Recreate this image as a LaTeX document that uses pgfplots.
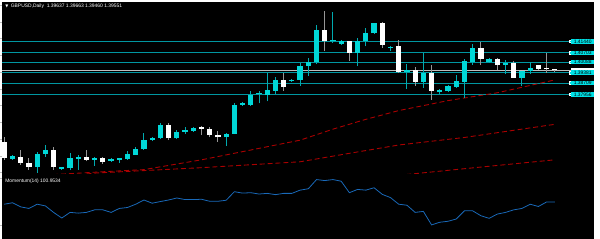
\documentclass[border=0pt]{standalone}
\usepackage{fontspec}
\setmainfont{Liberation Sans}
\newfontfamily\dejavu{DejaVu Sans}
\usepackage{pgfplots}
\usepackage{pgfplotstable}
\pgfplotsset{compat=1.18}
\definecolor{bull}{RGB}{0,215,215}
\definecolor{bullwick}{RGB}{0,170,175}
\definecolor{bear}{RGB}{255,255,255}
\definecolor{bearwick}{RGB}{150,150,150}
\definecolor{hline}{RGB}{0,150,160}
\definecolor{lab}{RGB}{0,225,230}
\definecolor{ma}{RGB}{170,0,0}
\definecolor{gridc}{RGB}{120,120,120}
\definecolor{mom}{RGB}{25,105,185}
\definecolor{axc}{RGB}{190,190,190}

\pgfplotstableread{
k o h l c
0 1.3481 1.3514 1.3362 1.3373
1 1.3368 1.3392 1.3362 1.3388
2 1.3383 1.3427 1.3329 1.3344
3 1.3340 1.3375 1.3297 1.3314
4 1.3314 1.3416 1.3277 1.3401
5 1.3401 1.3460 1.3383 1.3427
6 1.3427 1.3447 1.3297 1.3314
7 1.3301 1.3314 1.3297 1.3312
8 1.3308 1.3408 1.3297 1.3373
9 1.3370 1.3395 1.3297 1.3381
10 1.3381 1.3427 1.3351 1.3364
11 1.3362 1.3381 1.3323 1.3377
12 1.3373 1.3383 1.3336 1.3349
13 1.3355 1.3375 1.3349 1.3370
14 1.3362 1.3377 1.3342 1.3373
15 1.3366 1.3423 1.3362 1.3399
16 1.3397 1.3447 1.3395 1.3436
17 1.3432 1.3540 1.3427 1.3493
18 1.3493 1.3512 1.3486 1.3506
19 1.3504 1.3605 1.3499 1.3590
20 1.3590 1.3605 1.3493 1.3504
21 1.3504 1.3558 1.3499 1.3547
22 1.3547 1.3579 1.3532 1.3562
23 1.3553 1.3579 1.3547 1.3573
24 1.3575 1.3588 1.3525 1.3569
25 1.3564 1.3579 1.3510 1.3525
26 1.3525 1.3553 1.3482 1.3510
27 1.3510 1.3540 1.3453 1.3536
28 1.3536 1.3736 1.3532 1.3728
29 1.3728 1.3747 1.3721 1.3736
30 1.3728 1.3819 1.3721 1.3791
31 1.3795 1.3819 1.3736 1.3801
32 1.3791 1.3938 1.3749 1.3823
33 1.3819 1.3912 1.3801 1.3891
34 1.3891 1.3938 1.3819 1.3845
35 1.3882 1.3895 1.3878 1.3889
36 1.3889 1.4004 1.3852 1.3982
37 1.3982 1.4036 1.3917 1.4010
38 1.4008 1.4258 1.3995 1.4222
39 1.4222 1.4346 1.4080 1.4150
40 1.4146 1.4341 1.4134 1.4157
41 1.4131 1.4157 1.4124 1.4150
42 1.4150 1.4152 1.4019 1.4069
43 1.4069 1.4167 1.3982 1.4150
44 1.4150 1.4237 1.4113 1.4200
45 1.4200 1.4271 1.4198 1.4265
46 1.4265 1.4276 1.4102 1.4124
47 1.4102 1.4113 1.4080 1.4111
48 1.4113 1.4157 1.3938 1.3943
49 1.3943 1.3997 1.3830 1.3956
50 1.3956 1.3976 1.3852 1.3878
51 1.3878 1.4069 1.3840 1.3938
52 1.3934 1.3993 1.3760 1.3819
53 1.3808 1.3830 1.3801 1.3823
54 1.3819 1.3859 1.3808 1.3850
55 1.3845 1.3923 1.3840 1.3884
56 1.3880 1.4028 1.3771 1.4015
57 1.4008 1.4128 1.3993 1.4102
58 1.4102 1.4141 1.3993 1.4030
59 1.4010 1.4036 1.4004 1.4032
60 1.4032 1.4036 1.3954 1.3989
61 1.3991 1.4026 1.3932 1.4000
62 1.4000 1.4015 1.3906 1.3906
63 1.3906 1.3950 1.3852 1.3950
64 1.3950 1.4010 1.3932 1.3967
65 1.3987 1.3990 1.3960 1.3965
66 1.3967 1.4069 1.3938 1.3961
67 1.39637 1.39663 1.39460 1.39551
}\candles

\pgfplotstableread{
k m
0 100.56
1 100.82
2 100.08
3 99.80
4 100.56
5 100.26
6 99.09
7 98.08
8 99.09
9 98.96
10 99.09
11 99.55
12 99.55
13 99.09
14 99.80
15 99.97
16 100.56
17 101.32
18 100.74
19 101.04
20 101.32
21 101.68
22 101.39
23 101.39
24 101.45
25 101.09
26 101.09
27 101.27
28 102.81
29 102.56
30 102.63
31 102.39
32 102.51
33 102.28
34 102.51
35 102.51
36 103.09
37 103.34
38 104.99
39 104.81
40 104.99
41 104.69
42 102.63
43 103.22
44 103.09
45 103.52
46 102.33
47 101.75
48 100.56
49 100.38
50 99.09
51 99.27
52 96.84
53 97.32
54 97.49
55 97.90
56 99.37
57 99.37
58 98.49
59 98.02
60 98.79
61 99.09
62 99.55
63 99.80
64 100.56
65 100.15
66 100.97
67 100.9534
}\momentum

\tikzset{
  rlab/.style={fill=lab, text=black, anchor=west, inner sep=0.6pt, minimum width=23pt,
    font=\fontsize{5}{6}\selectfont},
}
\pgfplotsset{
  mt/.style={
    scale only axis, width=577pt, anchor=south west,
    xmin=-0.25, xmax=68.99,
    axis background/.style={fill=black},
    axis line style={axc, line width=0.8pt},
    tick style={axc, line width=0.5pt},
    tick align=outside, major tick length=2pt,
    yticklabel pos=right,
    ticklabel style={font=\fontsize{5}{6}\selectfont, text=white},
    yticklabel style={anchor=west, xshift=-0.5pt},
    /pgf/number format/assume math mode=true,
    xtick={0,4,...,64},
    grid style={gridc, densely dotted, line width=0.5pt},
    clip mode=individual,
    set layers,
  },
  lvl/.style={hline, line width=0.8pt, mark=square*, mark size=1.1pt, mark indices={2,3},
    mark options={fill=lab, draw=white, solid}, forget plot},
  bullrows/.style={restrict expr to domain={\thisrow{c}-\thisrow{o}}{0:1}},
  bearrows/.style={restrict expr to domain={\thisrow{c}-\thisrow{o}}{-1:-0.000001}},
}

\begin{document}
\begin{tikzpicture}
\fill[black] (0pt,0pt) rectangle (600pt,240pt);

% ---------------- main price pane ----------------
\begin{axis}[mt, at={(0pt,66pt)}, height=174pt,
  ymin=1.32704, ymax=1.44066,
  ytick={1.3277,1.3388,1.3499,1.3610,1.3721,1.3832,1.3943,1.4054,1.4165,1.4276,1.4387},
  yticklabels={1.32770,1.33880,1.34990,1.36100,1.37210,1.38320,,,,1.42760,1.43870},
  xticklabels={}, x tick style={draw=none},
  xmajorgrids, ymajorgrids]

% horizontal levels
\addplot[lvl] coordinates {(-1,1.41440) (-0.05,1.41440) (68.85,1.41440) (70,1.41440)};
\addplot[lvl] coordinates {(-1,1.40703) (-0.05,1.40703) (68.85,1.40703) (70,1.40703)};
\addplot[lvl] coordinates {(-1,1.40088) (-0.05,1.40088) (68.85,1.40088) (70,1.40088)};
\addplot[lvl] coordinates {(-1,1.39381) (-0.05,1.39381) (68.85,1.39381) (70,1.39381)};
\addplot[lvl] coordinates {(-1,1.38709) (-0.05,1.38709) (68.85,1.38709) (70,1.38709)};
\addplot[lvl] coordinates {(-1,1.37956) (-0.05,1.37956) (68.85,1.37956) (70,1.37956)};
% bid line
\addplot[lightgray, line width=0.6pt, forget plot] coordinates {(-1,1.39551) (70,1.39551)};

% moving averages
\addplot[ma, line width=0.9pt, dash pattern=on 5pt off 3pt, forget plot] coordinates {
(5,1.3257) (6,1.3264) (12,1.3283) (17,1.3297) (24,1.3362) (30,1.3427) (36,1.3492) (40,1.3565) (44,1.3630) (48,1.3688) (54,1.3754) (60,1.3806) (67,1.3891)};
\addplot[ma, line width=0.9pt, dash pattern=on 5pt off 3pt, forget plot] coordinates {
(10,1.3268) (11,1.3274) (24,1.3310) (36,1.3349) (42,1.3405) (48,1.3460) (56,1.3510) (67,1.3597)};
\addplot[ma, line width=0.9pt, dash pattern=on 5pt off 3pt, forget plot] coordinates {
(47,1.3253) (49,1.3265) (58,1.3314) (67,1.3362)};

% wicks (low -> high)
\addplot[bullrows, bullwick, line width=1pt, mark=none, forget plot,
  quiver={u=0, v=\thisrow{h}-\thisrow{l}}]
  table[x=k, y=l]{\candles};
\addplot[bearrows, bearwick, line width=1pt, mark=none, forget plot,
  quiver={u=0, v=\thisrow{h}-\thisrow{l}}]
  table[x=k, y=l]{\candles};
% bodies (lower edge -> upper edge)
\addplot[bullrows, bull, line width=5.3pt, line cap=butt, mark=none, forget plot,
  quiver={u=0, v={max(\thisrow{c}-\thisrow{o},0.0007)}}]
  table[x=k, y=o]{\candles};
\addplot[bearrows, bear, line width=5.3pt, line cap=butt, mark=none, forget plot,
  quiver={u=0, v={max(\thisrow{o}-\thisrow{c},0.0007)}}]
  table[x=k, y=c]{\candles};

\begin{pgfonlayer}{axis foreground}
\node[rlab, fill=white] at (axis cs:68.99,1.39551) {\phantom{1.39551}};
\node[rlab] at (axis cs:68.99,1.41440) {1.41440};
\node[rlab] at (axis cs:68.99,1.40703) {1.40703};
\node[rlab] at (axis cs:68.99,1.40088) {1.40088};
\node[rlab] at (axis cs:68.99,1.39381) {1.39381};
\node[rlab] at (axis cs:68.99,1.38709) {1.38709};
\node[rlab] at (axis cs:68.99,1.37956) {1.37956};
\node[anchor=north west, text=white, inner sep=0pt, font=\fontsize{5}{6}\selectfont]
  at (rel axis cs:0,1) [xshift=3pt, yshift=-2pt] {{\dejavu\fontsize{4}{5}\selectfont ▼}\hspace{2.5pt}GBPUSD,Daily\ \ 1.39637 1.39663 1.39460 1.39551};
\end{pgfonlayer}
\end{axis}

% ---------------- momentum pane ----------------
\begin{axis}[mt, at={(0pt,12pt)}, height=51pt,
  ymin=96.4827, ymax=105.5224,
  ytick={96.8372,105.1679}, yticklabels={96.8372,105.1679},
  xticklabels={8 Dec 2017,13 Dec 2017,18 Dec 2017,22 Dec 2017,28 Dec 2017,3 Jan 2018,8 Jan 2018,12 Jan 2018,17 Jan 2018,22 Jan 2018,26 Jan 2018,31 Jan 2018,5 Feb 2018,9 Feb 2018,14 Feb 2018,19 Feb 2018,23 Feb 2018},
  xticklabel style={anchor=north west, xshift=-1.5pt, yshift=0.5pt},
  x tick style={draw=none},
  xmajorgrids]
\addplot[mom, line width=0.8pt, mark=none] table[x=k, y=m]{\momentum};
\begin{pgfonlayer}{axis foreground}
\node[anchor=north west, text=white, inner sep=0pt, font=\fontsize{5}{6}\selectfont]
  at (rel axis cs:0,1) [xshift=3pt, yshift=-2.5pt] {Momentum(14) 100.9534};
\end{pgfonlayer}
\end{axis}
\end{tikzpicture}
\end{document}
